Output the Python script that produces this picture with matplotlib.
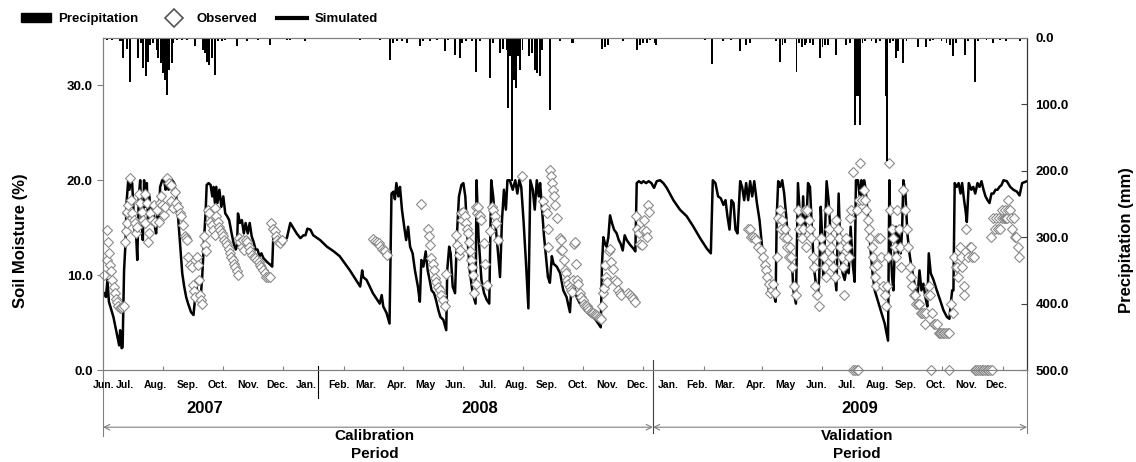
import numpy as np
import matplotlib
matplotlib.use("Agg")
import matplotlib.pyplot as plt
from matplotlib.patches import Patch
from matplotlib.lines import Line2D

plt.rcParams['font.family'] = ['Liberation Sans', 'DejaVu Sans']
plt.rcParams['font.weight'] = 'bold'

# x values are days counted from 1 June 2007
sim_day = [1, 3, 4.5, 6, 10.6, 14.7, 16.5, 17.5, 19, 20, 21.5, 23, 24, 25.7, 27, 28.4, 29.8, 31, 32.5, 33.9,
           35, 36.6, 38, 39.3, 40.7, 42, 43.4, 44.8, 46, 47.5, 48.9, 51, 53, 54.3, 55.7, 57, 58.4, 60.5, 62.5, 64,
           65, 67, 68.7, 70.7, 72.8, 74.8, 77, 79, 81, 83, 85, 87, 90, 92.5, 94, 95, 96.7, 98, 99.4, 101.4,
           103.5, 105, 106, 108, 110, 111.7, 113, 114.4, 115.8, 117, 119, 121, 123, 125, 127, 129, 131.5, 133.5, 135.6, 137,
           138, 140, 142, 144, 145.8, 148, 150, 152, 154, 156, 158, 160, 162, 164, 167.6, 171, 173, 174, 176, 178,
           181, 185, 188, 191.5, 195, 198, 201.8, 205, 207, 209, 212, 215, 222, 229, 236, 242, 252.5, 263, 265, 266,
           269.5, 276, 283, 285, 286.6, 290, 293, 295, 297, 298.5, 300, 302, 303.7, 305.7, 308, 310, 312, 314, 316.6, 319,
           322, 324, 325.5, 327.6, 330, 332, 334, 336, 338.5, 340.5, 343, 345, 348, 351, 352, 354, 355.5, 357.6, 360, 362,
           364, 366.5, 368.5, 370.5, 372.6, 375, 378, 381, 382, 384, 387, 389.7, 392.4, 395, 397, 399, 401, 404, 406, 408,
           410, 412, 413.6, 416, 419, 421.6, 423.7, 425.7, 427.7, 430, 432.6, 435, 437, 439.5, 441.5, 443.6, 445.6, 447, 449, 451,
           453, 455, 457, 459, 460.7, 464, 467.5, 470.7, 474, 477.5, 479, 481, 482.7, 484.4, 487.8, 493, 498, 503, 506.5, 509,
           510.3, 511.7, 513.4, 515, 516.8, 518.5, 520.5, 522.6, 525.3, 527.4, 529.4, 531.5, 533.5, 535.6, 539, 542.4, 544.4, 545.8, 548, 550.6,
           552.6, 555.4, 558, 560.8, 563.5, 566.3, 569.7, 573, 576.5, 583.3, 590, 597, 603.8, 610.6, 617.5, 621.6, 623.6, 626.3, 629, 631.8,
           634.5, 636.6, 638.6, 640.7, 642.7, 644.8, 646.8, 648.9, 651.6, 653.6, 655.7, 657.7, 659.8, 661.8, 663.9, 666, 668.7, 671.4, 674, 676.2,
           679, 681, 683, 684.4, 685.7, 687.8, 689, 690.5, 692.6, 694.6, 696.6, 698.7, 700.8, 702.8, 704.8, 706, 708.6, 710.7, 712.7, 714.8,
           716, 717.5, 719.6, 721, 723, 725, 727, 729, 731, 732.5, 734, 735.3, 736.6, 738, 740, 742, 744, 746, 748, 750,
           752.3, 754.4, 756.4, 758.5, 760.5, 762.6, 764.6, 766.7, 768.7, 770, 772.1, 774.2, 775.5, 776.9, 778.3, 779.6, 781, 783, 785, 787,
           789.2, 791.2, 793.3, 795.3, 797.4, 799.4, 801.5, 802.8, 804.2, 805.6, 807, 808.3, 809.7, 811, 812.4, 813.8, 815.8, 817.2, 818.5, 820.6,
           822.6, 824.7, 826.7, 828.8, 830.8, 832.9, 835, 837, 839, 841, 843, 844.5, 846.5, 849.3, 852.7, 856, 859.5, 863, 865.6, 867,
           868.4, 869.7, 871, 873, 875, 877, 878.6, 880.6, 882, 883.4, 885.4, 888, 890, 892, 894.3, 896.4, 898.4, 900.5, 902.5, 904.6,
           906.6, 908.6, 910.7, 912.7, 914.8, 916.8, 918.9, 920.9, 924.3, 927.8, 931, 934.6, 937.3, 940, 944.8]
sim_val = [8.1, 7.7, 9.5, 7.2, 5.6, 3.5, 2.6, 4.2, 2.3, 2.4, 10.5, 13.4, 17.6, 19.9, 19.0, 20, 19.7, 17.2, 14.4, 14.1,
           11.6, 18.3, 20, 16.5, 13.7, 20, 17.2, 19.7, 15.8, 18.3, 15.5, 17.6, 15.1, 14.4, 16.9, 15.8, 19.3, 20, 20, 19,
           20, 19, 19.9, 20, 19.7, 18.3, 15.8, 13, 10.2, 8.8, 7.7, 7, 6.1, 5.8, 7.4, 9.5, 7.7, 7.4, 7.0, 9.8,
           14.1, 16.9, 19.5, 19.7, 19.5, 18.3, 19.3, 17.6, 19.3, 17.6, 19, 17.2, 18.3, 16.5, 16.2, 15.8, 14.4, 13.4, 12.7, 13,
           16.5, 15.5, 15.8, 14.4, 15.5, 14.4, 15.5, 14.1, 13.5, 12.7, 12.7, 12, 12.3, 11.8, 11.4, 11.1, 10.9, 13.7, 14.8, 14.1,
           13.7, 13.7, 13.9, 15.5, 14.9, 14.4, 13.9, 14.2, 14.2, 14.9, 14.8, 14.2, 13.7, 13, 12.5, 12, 10.5, 8.8, 10.5, 9.8,
           9.5, 8.1, 7, 7.9, 6.7, 6, 4.9, 18.6, 18.8, 18, 19.7, 18.3, 19.3, 16.9, 15.1, 13.7, 15.1, 13, 12.3, 10.5,
           8.8, 7.2, 11.6, 10.9, 12.5, 10.5, 9.5, 8.4, 8.1, 7.4, 6.3, 5.6, 5.3, 4.2, 10.5, 13, 12.3, 8.8, 8.1, 14.4,
           18.3, 19.5, 19.7, 18.3, 14.1, 10.5, 8.1, 7, 20, 14.1, 9.5, 8.1, 7.4, 7, 20, 18.3, 15.8, 12.3, 9.8, 15.8,
           19, 16.9, 20, 20, 19, 20, 18.6, 20, 19.3, 15.8, 11.2, 6.5, 20, 19, 16.9, 20, 18.3, 19.7, 16.9, 14.1,
           12, 9.8, 9.2, 12, 11.2, 10.9, 10.2, 8.4, 7.7, 6.1, 8.8, 9.8, 8.4, 7.7, 7, 6.3, 5.8, 5.4, 4.9, 4.5,
           11.2, 14, 13.3, 13, 14, 16.3, 15.5, 14.8, 14.4, 13.7, 13.3, 12.6, 14.2, 13.7, 13.2, 12.8, 12.5, 19.7, 19.9, 19.7,
           19.9, 19.7, 19.9, 19.7, 19.2, 19.9, 20, 19.7, 19.2, 17.9, 16.9, 16.2, 15.1, 13.9, 12.8, 12.3, 20, 19.7, 18.3, 18.1,
           17.4, 17.9, 16.2, 14.8, 17.9, 17.6, 14.8, 14.4, 19.9, 19.3, 17.9, 19.7, 17.9, 19.9, 18.3, 19.9, 17.6, 15.8, 13, 11.2,
           9.8, 8.4, 7.7, 9.1, 8.1, 7.2, 16.2, 19.9, 19.3, 20, 18.6, 16.2, 13.3, 12.6, 10.9, 8.4, 7, 19.7, 16.2, 14,
           18.3, 14.4, 16.2, 19.7, 19.3, 14.8, 10.9, 9.1, 7.7, 9.8, 17.2, 14.4, 9.8, 13.3, 19.9, 17.9, 14.4, 12.6, 10.5, 8.4,
           18.6, 11.6, 10.2, 9.5, 10.9, 10.2, 15.1, 11.2, 9.3, 20, 20, 17.9, 20, 18.3, 20, 19.3, 17.6, 15.5, 12.6, 10.2,
           8.4, 7.7, 7, 6.3, 5.6, 4.9, 3.8, 3.1, 20, 12.6, 9.8, 8.4, 12.6, 15.1, 11.6, 14.4, 12.3, 14.8, 20, 18.6,
           14.4, 12.3, 10.9, 9.8, 8.4, 7.7, 10.5, 8.4, 9.1, 7.7, 6.7, 12.3, 10.2, 9.5, 8.4, 7.4, 6.3, 5.6, 5.4, 7,
           8.4, 8.4, 19.7, 19.3, 19.7, 18.6, 19.7, 17.9, 16.9, 15.6, 19.7, 19, 19.3, 18.6, 19.7, 19.3, 19.9, 19, 18.3, 17.9,
           17.6, 18.6, 18.6, 19, 19, 19.3, 19.5, 20, 19.9, 19.3, 19, 18.8, 18.4, 19.7, 19.9]

obs_day = [1, 4, 4, 5, 6, 7, 8, 9, 11, 12, 13, 14, 15, 17, 18, 19, 21, 22, 23, 24,
           24, 25, 26, 28, 29, 30, 32, 33, 34, 35, 37, 38, 40, 41, 43, 43, 45, 46, 47, 48,
           50, 52, 53, 55, 57, 58, 59, 60, 62, 63, 65, 67, 69, 70, 72, 74, 75, 77, 79, 80,
           82, 84, 85, 86, 87, 89, 91, 92, 93, 94, 96, 97, 98, 99, 100, 101, 103, 104, 105, 107,
           108, 109, 111, 112, 114, 115, 116, 118, 119, 120, 122, 123, 124, 126, 127, 129, 130, 131, 133, 134,
           135, 137, 138, 139, 140, 142, 143, 144, 146, 147, 149, 150, 152, 154, 155, 157, 159, 161, 162, 164,
           166, 167, 169, 171, 172, 174, 176, 177, 178, 180, 181, 183,
           276, 278, 280, 282, 283, 285, 287, 288, 290, 325, 332, 333, 334, 335, 337, 338, 340, 341, 343, 345,
           346, 348, 350, 351, 361, 362, 364, 365, 366, 367, 368, 370, 371, 372, 373, 374, 375, 376, 377, 378,
           379, 381, 381, 382, 383, 385, 386, 387, 390, 391, 393, 396, 398, 399, 401, 402, 404, 428, 450, 452,
           454, 455, 455, 457, 458, 459, 460, 461, 462, 464, 467, 468, 468, 469, 471, 472, 473, 475, 476, 478,
           479, 480, 481, 482, 483, 484, 485, 486, 488, 489, 491, 492, 493, 495, 496, 497, 499, 500, 501, 503,
           504, 505, 507, 508, 509, 510, 511, 512, 513, 514, 515, 517, 518, 520, 522, 524, 526, 527, 529, 530,
           537, 539, 541, 542, 544, 545, 546, 548, 549, 551, 552, 553, 555, 556, 557, 558,
           660, 662, 663, 665, 667, 668, 670, 673, 675, 677, 678, 679, 681, 682, 684, 685, 687, 689, 690, 692,
           693, 694, 696, 697, 699, 700, 702, 703, 704, 705, 707, 709, 711, 712, 713, 715, 716, 718, 719, 720,
           722, 723, 724, 726, 727, 728, 730, 732, 734, 735, 737, 738, 739, 741, 742, 743, 745, 746, 747, 749,
           750, 752, 753, 754, 756, 757, 758, 760, 761, 763, 764, 765, 767, 771, 773, 774, 776, 778, 779, 780,
           782, 783, 784, 786, 787, 788, 790, 791, 792, 793, 795, 796, 798, 800, 801, 802, 803, 804, 805, 807,
           808, 810, 811, 812, 814, 815, 816, 818, 820, 822, 823, 825, 826, 827, 829, 830, 831, 833, 834, 835,
           837, 838, 840, 841, 842, 844, 845, 846, 848, 850, 851, 853, 855, 856, 857, 859, 860, 862, 864, 865,
           867, 869, 870, 872, 873, 874, 876, 877, 878, 880, 881, 883, 885, 887, 888, 889, 891,
           908, 910, 912, 913, 915, 916, 917, 919, 919, 921, 922, 922, 923, 924, 925, 926, 928, 929, 930, 932,
           933, 934, 936, 937,
           767, 769, 771, 772, 847, 865, 892, 893, 895, 897, 899, 900, 902, 904, 905, 907, 909]
obs_val = [10.0, 11.6, 14.8, 13.5, 12.3, 11.1, 10.4, 9.5, 8.8, 8.1, 7.5, 7.2, 6.8, 6.5, 6.5, 6.6, 6.7, 13.5, 14.6, 15.5,
           16.5, 16.7, 17.4, 20.2, 17.9, 16.5, 15.8, 15.5, 14.4, 15.1, 18.5, 17.6, 16.7, 15.8, 15.5, 18.5, 17.6, 13.5, 14.4, 16.5,
           15.8, 17.4, 15.6, 16.9, 15.6, 17.6, 18.3, 17.4, 16.3, 17.2, 20.2, 19.7, 19.5, 17.8, 17.1, 18.8, 17.6, 17.2, 16.5, 16.2,
           15.3, 14.1, 13.9, 13.7, 11.9, 11.1, 10.9, 9.0, 8.3, 7.7, 11.9, 11.1, 9.5, 7.9, 7.4, 7.0, 14.1, 13.2, 12.5, 16.9,
           16.5, 15.6, 15.3, 14.8, 14.2, 17.1, 16.2, 15.6, 15.1, 14.8, 14.4, 14.1, 13.7, 13.5, 13.2, 12.8, 12.3, 11.9, 11.6, 11.2,
           10.9, 10.4, 10.0, 13.9, 13.5, 13.0, 13.7, 12.7, 13.7, 13.5, 13.0, 12.5, 12.1, 11.9, 11.8, 11.6, 11.4, 11.1, 10.9, 10.5,
           10.2, 9.8, 9.8, 9.8, 15.5, 14.9, 14.6, 14.1, 13.7, 13.5, 13.4, 13.7,
           13.8, 13.6, 13.5, 13.4, 13.1, 12.8, 12.7, 12.5, 12.1, 17.5, 14.9, 14.1, 13.2, 11.8, 11.2, 10.5, 9.7, 9.3, 8.8, 8.4,
           7.9, 7.4, 6.7, 10.1, 14.2, 13.2, 12.1, 12.7, 16.5, 15.8, 16.7, 16.2, 15.5, 14.9, 14.4, 13.5, 12.5, 11.6, 10.9, 10.0,
           8.1, 9.1, 17.2, 16.5, 17.2, 16.3, 16.2, 15.8, 13.4, 11.2, 9.0, 14.6, 17.2, 16.9, 16.2, 15.5, 13.7, 20.4, 17.8, 17.1,
           16.5, 14.9, 13.0, 21.1, 20.4, 19.7, 19.0, 18.3, 17.4, 16.0, 13.9, 13.7, 12.6, 12.7, 11.6, 10.5, 10.2, 9.5, 9.1, 8.8,
           8.4, 8.2, 9.5, 13.3, 13.5, 11.2, 9.5, 9.1, 8.1, 7.7, 7.4, 7.0, 6.8, 6.7, 6.5, 6.3, 6.1, 6.0, 6.0, 5.9,
           5.8, 5.7, 5.6, 5.5, 5.4, 6.8, 8.1, 8.6, 11.1, 9.8, 9.3, 12.5, 12.8, 11.4, 10.7, 9.5, 9.3, 8.4, 8.1, 7.9,
           8.1, 7.9, 7.7, 7.5, 7.2, 16.2, 14.9, 14.4, 13.3, 13.2, 14.8, 15.8, 14.6, 14.0, 17.4, 16.7,
           14.9, 14.9, 14.0, 14.0, 13.9, 13.7, 13.0, 12.6, 11.9, 11.1, 10.5, 9.8, 9.1, 8.1, 8.4, 9.1, 8.1, 11.9, 16.0, 16.9,
           14.9, 15.8, 14.0, 14.9, 13.9, 13.0, 11.9, 13.0, 11.9, 10.9, 8.9, 7.9, 16.9, 14.9, 15.8, 13.9, 14.9, 16.9, 13.0, 16.9,
           15.8, 14.9, 13.9, 11.9, 10.9, 8.9, 7.9, 6.8, 13.9, 13.0, 11.9, 10.9, 9.8, 16.9, 14.9, 13.9, 13.0, 11.9, 10.9, 9.8,
           15.8, 14.9, 13.9, 13.0, 11.9, 10.9, 7.9, 13.9, 13.0, 11.9, 16.0, 16.9, 20.9, 16.9, 17.9, 21.8, 17.9, 19.0, 17.9, 16.9,
           15.8, 14.9, 13.9, 13.0, 11.9, 10.9, 9.8, 8.9, 11.1, 13.9, 13.9, 11.9, 8.9, 7.9, 6.8, 8.9, 11.9, 21.8, 16.9, 14.9,
           13.9, 13.0, 11.9, 16.9, 14.9, 13.0, 10.9, 19.0, 16.9, 14.9, 13.0, 10.9, 9.8, 8.9, 7.9, 7.9, 7.0, 7.0, 7.0, 7.0,
           6.0, 6.0, 6.0, 4.9, 6.0, 7.9, 8.9, 7.9, 6.0, 4.9, 4.9, 4.9, 3.9, 3.9, 3.9, 3.9, 3.9, 3.9, 3.9, 3.9,
           7.0, 6.0, 11.9, 10.9, 10.9, 9.8, 13.0, 11.9, 10.9, 8.9, 7.9, 14.9, 11.9, 13.0, 13.0, 11.9, 11.9,
           14.0, 16.0, 14.9, 16.0, 14.9, 16.0, 14.9, 16.0, 16.9, 16.0, 16.0, 16.9, 16.0, 16.0, 16.9, 17.9, 16.9, 16.0, 14.9, 16.0,
           14.0, 14.0, 13.0, 11.9,
           0, 0, 0, 0, 0, 0, 0, 0, 0, 0, 0, 0, 0, 0, 0, 0, 0]

prcp_day = [3.7, 8.9, 17.4, 19.1, 20.8, 24.2, 27.6, 36.1, 38.5, 41.2, 43.9, 46.3, 48, 50.8, 54.9, 56.6, 58.9, 61, 63.4, 65.8,
            67.8, 70.2, 71.9, 75.3, 80.4, 85.5, 94, 102.6, 104.3, 106.7, 108.7, 111, 114.5, 117.9, 121.3, 124.7, 136.6, 146.9, 158.8, 170.7,
            187.8, 191.2, 206.5, 262.8, 283.2, 293.5, 296.9, 300.3, 305.4, 310.5, 324.1, 327.6, 334.4, 341.2, 349.7, 353.1, 360, 365, 367.5, 371,
            377, 381.4, 385.5, 395.7, 399, 406, 409.4, 412.7, 414.5, 416.5, 417.9, 420.3, 422.3, 424.7, 426.4, 429, 436, 438.4, 441.7, 444,
            446.8, 448.5, 457, 467.3, 479.2, 481, 510, 513.3, 516.7, 532, 545.7, 549, 552.5, 556, 559, 564, 566, 615.5, 622.4, 634,
            642.7, 651, 658, 661.5, 688.7, 692, 694.9, 697.3, 709.2, 712, 715.3, 717.7, 719.4, 722.8, 726.2, 733, 735.8, 738.2, 741.6, 749.4,
            760.3, 763.7, 768.8, 769.8, 770.8, 771.8, 772.8, 773.7, 774.6, 776.7, 779, 785.9, 791, 794.4, 800.9, 801.9, 805.3, 808, 810.8, 813.1,
            818.3, 821.7, 833.6, 842.1, 845.5, 848.9, 857.5, 862.6, 866, 869.4, 872.8, 881.3, 884.7, 891.5, 894.9, 903.5, 910.3, 917.1, 923.9, 937.6]
prcp_mm = [3, 3, 4, 4, 31, 16, 66, 30, 8, 46, 58, 36, 10, 8, 18, 30, 38, 53, 63, 86,
           48, 38, 8, 3, 3, 3, 12, 18, 23, 36, 41, 30, 56, 5, 5, 3, 12, 4, 3, 10,
           3, 3, 4, 3, 3, 33, 8, 5, 5, 8, 12, 5, 5, 3, 20, 3, 26, 31, 8, 5,
           5, 51, 5, 61, 8, 23, 16, 18, 106, 28, 215, 63, 76, 28, 48, 18, 28, 23, 48, 53,
           58, 18, 108, 5, 8, 8, 16, 13, 10, 5, 18, 10, 8, 8, 3, 8, 10, 3, 39, 5,
           3, 20, 10, 8, 5, 36, 10, 8, 51, 8, 13, 10, 8, 8, 10, 31, 13, 10, 10, 26,
           10, 8, 131, 88, 88, 88, 88, 88, 131, 8, 5, 5, 8, 5, 88, 186, 8, 5, 31, 20,
           38, 5, 13, 13, 5, 3, 5, 8, 10, 28, 8, 26, 5, 66, 5, 3, 8, 3, 5, 5]

month_names = ['Jun.', 'Jul.', 'Aug.', 'Sep.', 'Oct.', 'Nov.', 'Dec.', 'Jan.', 'Feb.', 'Mar.', 'Apr.', 'May',
               'Jun.', 'Jul.', 'Aug.', 'Sep.', 'Oct.', 'Nov.', 'Dec.', 'Jan.', 'Feb.', 'Mar.', 'Apr.', 'May',
               'Jun.', 'Jul.', 'Aug.', 'Sep.', 'Oct.', 'Nov.', 'Dec.']
month_pos = [1, 22, 54, 87, 117, 148, 178.5, 207.5, 241, 269, 300.6, 329.8, 361, 393.5, 423, 454, 485, 516, 546,
             577.7, 607, 635.7, 668, 698, 730, 760.7, 791.4, 821, 851.7, 882.4, 913.5]
tick_days = [61.3, 122.7, 184, 246.4, 306.7, 368, 429.4, 490.8, 552.1, 614.5, 673.8, 735.2, 796.5, 857.9, 920.2]

fig = plt.figure(figsize=(11.36, 4.62), dpi=100)
ax = fig.add_axes([0.0907, 0.199, 0.8134, 0.719])
ax2 = ax.twinx()

ax.plot(sim_day, sim_val, color='black', lw=1.8, zorder=2)
ax.plot(obs_day, obs_val, ls='none', marker='D', ms=5.5, mfc='white', mec='#8a8a8a', mew=0.8, zorder=3, clip_on=False)
ax2.bar(prcp_day, prcp_mm, width=2.0, color='black', align='center')

ax.set_xlim(0, 945)
ax.set_ylim(0, 35)
ax.set_yticks([0, 10, 20, 30])
ax.set_yticklabels(['0.0', '10.0', '20.0', '30.0'], fontsize=9.5, fontweight='bold')
ax.set_xticks(tick_days)
ax.set_xticklabels([])
ax.tick_params(axis='x', direction='in', length=3, color='#808080')
ax.tick_params(axis='y', direction='out', length=4, color='#808080')
ax2.set_ylim(500, 0)
ax2.set_yticks([0, 100, 200, 300, 400, 500])
ax2.set_yticklabels(['0.0', '100.0', '200.0', '300.0', '400.0', '500.0'], fontsize=9.5, fontweight='bold')
ax2.tick_params(axis='y', direction='in', length=4, color='#404040', pad=6)

for a in (ax, ax2):
    for s in ('left', 'bottom', 'top'):
        a.spines[s].set_color('#808080')
    a.spines['right'].set_color('#333333')

ax.set_ylabel('Soil Moisture (%)', fontsize=12, fontweight='bold')
ax.yaxis.set_label_coords(-0.081, 0.39)
ax2.set_ylabel('Precipitation (mm)', fontsize=12, fontweight='bold')
ax2.yaxis.set_label_coords(1.1, 0.39)

tr = ax.get_xaxis_transform()
narrow = ['Liberation Sans Narrow', 'Liberation Sans', 'DejaVu Sans']
for name, p in zip(month_names, month_pos):
    ax.text(p, -0.045, name, transform=tr, ha='center', va='center', fontsize=7.5,
            fontweight='bold', family=narrow)

for yr, p in zip(['2007', '2008', '2009'], [104, 385.5, 774]):
    ax.text(p, -0.117, yr, transform=tr, ha='center', va='center', fontsize=12, fontweight='bold')

ax.text(278, -0.226, 'Calibration\nPeriod', transform=tr, ha='center', va='center', fontsize=11,
        fontweight='bold', linespacing=1.3)
ax.text(771, -0.226, 'Validation\nPeriod', transform=tr, ha='center', va='center', fontsize=11,
        fontweight='bold', linespacing=1.3)

# year dividers and period brackets
ax.plot([219.8, 219.8], [0.012, -0.084], transform=tr, color='black', lw=0.8, clip_on=False)
ax.plot([562.4, 562.4], [0.03, -0.19], transform=tr, color='#404040', lw=0.8, clip_on=False)
ax.plot([0, 0], [0, -0.2], transform=tr, color='#808080', lw=0.8, clip_on=False)
ax.plot([945, 945], [0, -0.19], transform=tr, color='#808080', lw=0.8, clip_on=False)
for x0, x1 in [(0, 562.4), (562.4, 945)]:
    ax.annotate('', xy=(x1, -0.172), xytext=(x0, -0.172), xycoords=tr, textcoords=tr,
                arrowprops=dict(arrowstyle='<->', color='#808080', lw=0.8, shrinkA=0, shrinkB=0))

handles = [Patch(facecolor='black', edgecolor='black'),
           Line2D([], [], ls='none', marker='D', ms=9, mfc='white', mec='#555555', mew=1.2),
           Line2D([], [], color='black', lw=3)]
fig.legend(handles, ['Precipitation', 'Observed', 'Simulated'], loc='upper left',
           bbox_to_anchor=(0.008, 0.997), ncol=3, frameon=False, handlelength=2.3,
           columnspacing=1.5, handletextpad=0.55, prop={'weight': 'bold', 'size': 9.5})

fig.savefig('out.png', dpi=100)
